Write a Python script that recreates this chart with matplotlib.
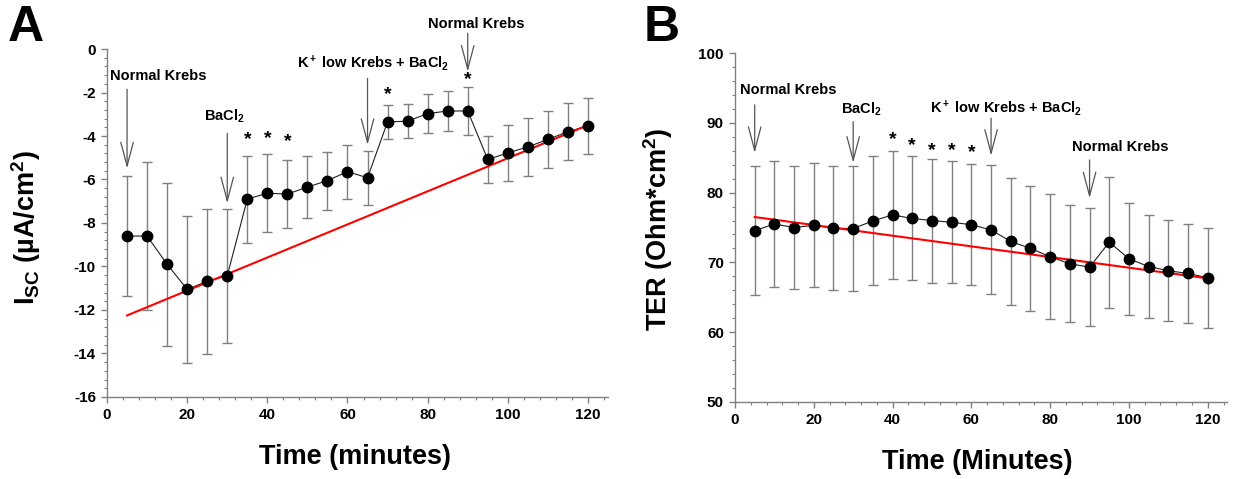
import numpy as np
import matplotlib
matplotlib.use("Agg")
import matplotlib.pyplot as plt
from matplotlib.ticker import MultipleLocator

plt.rcParams["font.family"] = ["Liberation Sans", "DejaVu Sans"]
plt.rcParams["font.weight"] = "bold"
plt.rcParams["mathtext.fontset"] = "custom"
plt.rcParams["mathtext.rm"] = "Liberation Sans:bold"
plt.rcParams["mathtext.it"] = "Liberation Sans:bold"
plt.rcParams["mathtext.bf"] = "Liberation Sans:bold"
plt.rcParams["mathtext.default"] = "rm"

# data
#
time_min = [5, 10, 15, 20, 25, 30, 35, 40, 45, 50, 55, 60,
            65, 70, 75, 80, 85, 90, 95, 100, 105, 110, 115, 120]

isc_mean = [-8.6, -8.6, -9.9, -11.05, -10.68, -10.43, -6.9, -6.63, -6.67, -6.35, -6.05, -5.64,
            -5.92, -3.35, -3.32, -2.97, -2.85, -2.85, -5.08, -4.78, -4.5, -4.16, -3.8, -3.54]
isc_sem = [2.77, 3.4, 3.74, 3.37, 3.33, 3.08, 2.0, 1.8, 1.56, 1.43, 1.33, 1.24,
           1.24, 0.78, 0.78, 0.88, 0.94, 1.1, 1.07, 1.27, 1.33, 1.3, 1.32, 1.31]
isc_trend_x = [5, 120]
isc_trend_y = [-12.25, -3.5]

ter_mean = [74.55, 75.5, 75.0, 75.3, 74.9, 74.85, 75.95, 76.8, 76.3, 76.0, 75.75, 75.4,
            74.65, 73.0, 72.0, 70.8, 69.8, 69.3, 72.9, 70.5, 69.4, 68.8, 68.4, 67.8]
ter_sem = [9.25, 9.0, 8.8, 8.9, 8.9, 8.95, 9.25, 9.2, 8.9, 8.9, 8.75, 8.7,
           9.25, 9.1, 9.0, 8.95, 8.4, 8.5, 9.4, 8.0, 7.4, 7.25, 7.15, 7.2]
ter_trend_x = [5, 120]
ter_trend_y = [76.5, 67.7]

# annotations: (label, text x, text y, arrow x, arrow tail y, arrow tip y)
#
isc_notes = [
  ("Normal Krebs", 12.9, -1.24, 5, -1.85, -5.49),
  ("BaCl$_2$", 29.2, -3.11, 30, -3.88, -7.09),
  ("K$^+$ low Krebs + BaCl$_2$", 66.4, -0.66, 65, -1.35, -4.41),
  ("Normal Krebs", 92.1, 1.13, 90, 0.72, -1.04),
]
isc_stars_x = [35, 40, 45, 70, 90]
isc_stars_y = [-4.18, -4.1, -4.26, -2.11, -1.39]

ter_notes = [
  ("Normal Krebs", 13.6, 94.7, 5, 92.6, 85.7),
  ("BaCl$_2$", 32.0, 91.9, 30, 90.2, 84.3),
  ("K$^+$ low Krebs + BaCl$_2$", 68.7, 92.1, 65, 90.7, 85.3),
  ("Normal Krebs", 97.8, 86.6, 90, 84.7, 79.2),
]
ter_stars_x = [40, 45, 50, 55, 60]
ter_stars_y = [87.6, 86.8, 86.1, 86.0, 85.8]

GRAY = "#808080"


def draw_panel(ax, mean, sem, trend_x, trend_y, notes, stars_x, stars_y):
  ax.errorbar(time_min, mean, yerr=sem, fmt="none", ecolor=GRAY,
              elinewidth=1.0, capsize=3.6, capthick=1.0, zorder=2)
  ax.plot(time_min, mean, color="#202020", lw=0.8, zorder=3)
  ax.plot(trend_x, trend_y, color="#ff0000", lw=1.5, zorder=4)
  ax.plot(time_min, mean, "o", color="black", ms=7.5, zorder=5)

  for label, tx, ty, ax_x, tail, tip in notes:
    ax.text(tx, ty, label, ha="center", va="center", fontsize=10.5,
            fontweight="bold", clip_on=False)
    ax.annotate("", xy=(ax_x, tip), xytext=(ax_x, tail),
                arrowprops=dict(arrowstyle="->,head_length=1.7,head_width=0.45",
                                color="#555555", lw=0.9, mutation_scale=10,
                                shrinkA=0, shrinkB=0),
                annotation_clip=False)

  for sx, sy in zip(stars_x, stars_y):
    ax.text(sx, sy, "*", ha="center", va="center", fontsize=14, fontweight="bold")

  # axis styling
  #
  for side in ("top", "right"):
    ax.spines[side].set_visible(False)
  for side in ("left", "bottom"):
    ax.spines[side].set_color(GRAY)
    ax.spines[side].set_linewidth(1.0)
  ax.set_xlim(0, 125)
  ax.xaxis.set_major_locator(MultipleLocator(20))
  ax.xaxis.set_minor_locator(MultipleLocator(4))
  ax.tick_params(which="major", direction="out", length=4.5, width=1.0,
                 color=GRAY, labelsize=11)
  ax.tick_params(which="minor", direction="out", length=2.5, width=0.8, color=GRAY)


fig = plt.figure(figsize=(12.33, 4.79), dpi=100)

ax_a = fig.add_axes([0.0868, 0.1712, 0.4063, 0.7265])
draw_panel(ax_a, isc_mean, isc_sem, isc_trend_x, isc_trend_y,
           isc_notes, isc_stars_x, isc_stars_y)
ax_a.set_ylim(-16, 0)
ax_a.yaxis.set_major_locator(MultipleLocator(2))
ax_a.yaxis.set_minor_locator(MultipleLocator(0.4))
ax_a.set_xticks(range(0, 121, 20))
ax_a.set_xticklabels([str(v) for v in range(0, 121, 20)], fontweight="bold")
ax_a.set_yticks(range(-16, 1, 2))
ax_a.set_yticklabels([str(v) for v in range(-16, 1, 2)], fontweight="bold")
ax_a.set_xlabel("Time (minutes)", fontsize=19.5, fontweight="bold")
ax_a.set_ylabel("I$_{SC}$ (µA/cm$^2$)", fontsize=19.5, fontweight="bold")
ax_a.xaxis.set_label_coords(0.495, -0.135)
ax_a.yaxis.set_label_coords(-0.128, 0.486)

ax_b = fig.add_axes([0.5961, 0.1614, 0.3994, 0.7273])
draw_panel(ax_b, ter_mean, ter_sem, ter_trend_x, ter_trend_y,
           ter_notes, ter_stars_x, ter_stars_y)
ax_b.set_ylim(50, 100)
ax_b.yaxis.set_major_locator(MultipleLocator(10))
ax_b.yaxis.set_minor_locator(MultipleLocator(2))
ax_b.set_xticks(range(0, 121, 20))
ax_b.set_xticklabels([str(v) for v in range(0, 121, 20)], fontweight="bold")
ax_b.set_yticks(range(50, 101, 10))
ax_b.set_yticklabels([str(v) for v in range(50, 101, 10)], fontweight="bold")
ax_b.set_xlabel("Time (Minutes)", fontsize=19.5, fontweight="bold")
ax_b.set_ylabel("TER (Ohm*cm$^2$)", fontsize=19.5, fontweight="bold")
ax_b.xaxis.set_label_coords(0.493, -0.136)
ax_b.yaxis.set_label_coords(-0.122, 0.496)

# panel letters
#
fig.text(0.006, 0.99, "A", fontsize=36, fontweight="bold", va="top", ha="left")
fig.text(0.522, 0.99, "B", fontsize=36, fontweight="bold", va="top", ha="left")

fig.savefig("out.png", dpi=100)
